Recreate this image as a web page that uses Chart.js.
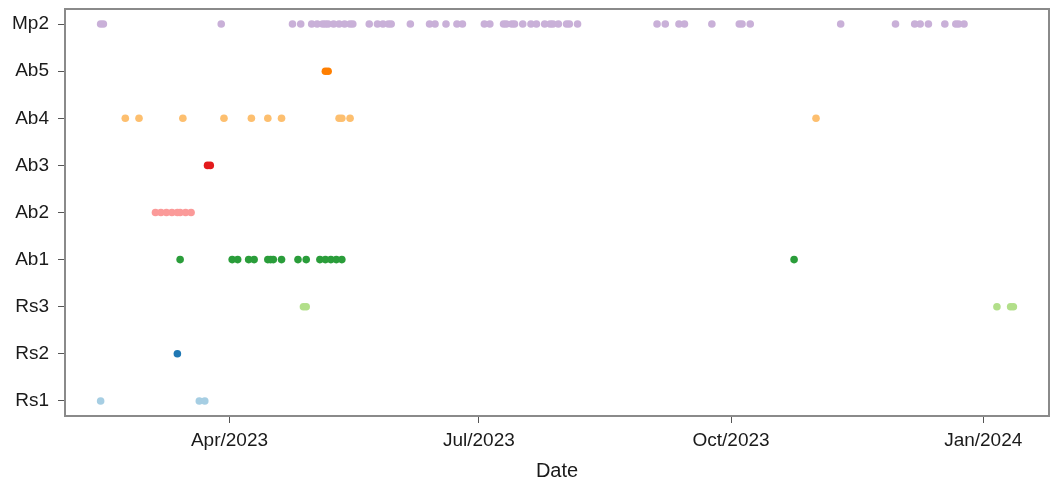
<!DOCTYPE html>
<html>
<head>
<meta charset="utf-8">
<title>Detections by date</title>
<script src="https://cdn.jsdelivr.net/npm/chart.js@4/dist/chart.umd.min.js"></script>
<style>
  html, body { margin: 0; padding: 0; background: #fff; }
  #wrap { width: 1054px; height: 485px; }
</style>
</head>
<body>
<div id="wrap"><canvas id="chart" width="1054" height="485"></canvas></div>
<script>
'use strict';

// ── Daten (von unten nach oben) ──
const categories = ['Rs1', 'Rs2', 'Rs3', 'Ab1', 'Ab2', 'Ab3', 'Ab4', 'Ab5', 'Mp2'];
const colors     = ['#a6cee3', '#1f78b4', '#b2df8a', '#2a9d3a', '#fb9a99', '#e31a1c', '#fdbf6f', '#ff7f00', '#c9b0d8'];

const rs1 = ['2023-02-13', '2023-03-21', '2023-03-23'];
const rs2 = ['2023-03-13'];
const rs3 = ['2023-04-28', '2023-04-29', '2024-01-06', '2024-01-11', '2024-01-12'];
const ab1 = ['2023-03-14', '2023-04-02', '2023-04-04', '2023-04-08', '2023-04-10', '2023-04-15', '2023-04-16',
             '2023-04-17', '2023-04-20', '2023-04-26', '2023-04-29', '2023-05-04', '2023-05-06', '2023-05-08',
             '2023-05-10', '2023-05-12', '2023-10-24'];
const ab2 = ['2023-03-05', '2023-03-07', '2023-03-09', '2023-03-11', '2023-03-13', '2023-03-14', '2023-03-16', '2023-03-18'];
const ab3 = ['2023-03-24', '2023-03-25'];
const ab4 = ['2023-02-22', '2023-02-27', '2023-03-15', '2023-03-30', '2023-04-09', '2023-04-15', '2023-04-20',
             '2023-05-11', '2023-05-12', '2023-05-15', '2023-11-01'];
const ab5 = ['2023-05-06', '2023-05-07'];
const mp2 = ['2023-02-13', '2023-02-14', '2023-03-29', '2023-04-24', '2023-04-27', '2023-05-01', '2023-05-03',
             '2023-05-05', '2023-05-06', '2023-05-07', '2023-05-09', '2023-05-11', '2023-05-13', '2023-05-15',
             '2023-05-16', '2023-05-22', '2023-05-25', '2023-05-27', '2023-05-29', '2023-05-30', '2023-06-06',
             '2023-06-13', '2023-06-15', '2023-06-19', '2023-06-23', '2023-06-25', '2023-07-03', '2023-07-05',
             '2023-07-10', '2023-07-11', '2023-07-13', '2023-07-14', '2023-07-17', '2023-07-20', '2023-07-22',
             '2023-07-25', '2023-07-27', '2023-07-28', '2023-07-30', '2023-08-02', '2023-08-03', '2023-08-06',
             '2023-09-04', '2023-09-07', '2023-09-12', '2023-09-14', '2023-09-24', '2023-10-04', '2023-10-05',
             '2023-10-08', '2023-11-10', '2023-11-30', '2023-12-07', '2023-12-09', '2023-12-12', '2023-12-18',
             '2023-12-22', '2023-12-23', '2023-12-25'];
const series = [rs1, rs2, rs3, ab1, ab2, ab3, ab4, ab5, mp2];

const tickDates  = ['2023-04-01', '2023-07-01', '2023-10-01', '2024-01-01'];
const tickLabels = ['Apr/2023', 'Jul/2023', 'Oct/2023', 'Jan/2024'];
const xRange     = ['2023-01-31', '2024-01-25'];

const FONT = "'Liberation Sans', Arial, sans-serif";
const day = s => Date.parse(s);

// ── Rahmen um die Zeichenfläche ──
const framePlugin = {
  id: 'frame',
  afterDatasetsDraw(chart) {
    const { ctx, chartArea: a } = chart;
    ctx.save();
    ctx.strokeStyle = '#8a8a8a';
    ctx.lineWidth = 2;
    ctx.strokeRect(a.left, a.top, a.right - a.left, a.bottom - a.top);
    ctx.restore();
  }
};

const datasets = series.map((dates, i) => ({
  label: categories[i],
  data: dates.map(d => ({ x: day(d), y: i })),
  backgroundColor: colors[i],
  borderWidth: 0,
  pointRadius: 3.8,
  pointHoverRadius: 4.2,
}));

new Chart(document.getElementById('chart'), {
  type: 'scatter',
  data: { datasets },
  plugins: [framePlugin],
  options: {
    responsive: false,
    animation: false,
    layout: { padding: { top: 9, right: 5, left: 0, bottom: 0 } },
    plugins: { legend: { display: false }, tooltip: { enabled: false } },
    scales: {
      x: {
        type: 'linear',
        min: day(xRange[0]),
        max: day(xRange[1]),
        afterBuildTicks: s => { s.ticks = tickDates.map(d => ({ value: day(d) })); },
        afterFit: s => { s.height = 69; },
        grid: { drawOnChartArea: false, drawTicks: true, tickLength: 7, color: '#555' },
        border: { display: false },
        ticks: {
          autoSkip: false, maxRotation: 0, padding: 6,
          color: '#1a1a1a', font: { family: FONT, size: 19 },
          callback: (v, i) => tickLabels[i],
        },
        title: {
          display: true, text: 'Date', color: '#1a1a1a',
          font: { family: FONT, size: 20 },
          padding: { top: 0, bottom: 2 },
        },
      },
      y: {
        type: 'linear',
        min: -0.32,
        max: 8.32,
        afterBuildTicks: s => { s.ticks = categories.map((_, i) => ({ value: i })); },
        afterFit: s => { s.width = 65; s.paddingTop = 0; s.paddingBottom = 0; },
        grid: { drawOnChartArea: false, drawTicks: true, tickLength: 7, color: '#555' },
        border: { display: false },
        ticks: {
          autoSkip: false, padding: 9,
          color: '#1a1a1a', font: { family: FONT, size: 19 },
          callback: v => categories[v],
        },
      },
    },
  },
});
</script>
</body>
</html>
